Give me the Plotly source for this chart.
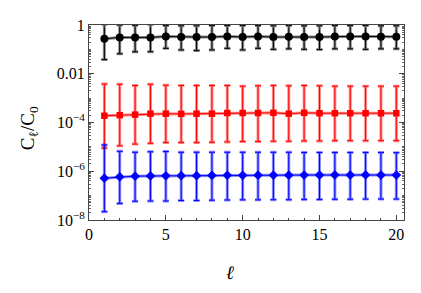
import plotly.graph_objects as go
import numpy as np

ell = list(range(1, 21))

black_val = [0.27, 0.31, 0.31, 0.31, 0.34, 0.32, 0.32, 0.32, 0.34, 0.32,
             0.34, 0.32, 0.33, 0.32, 0.32, 0.34, 0.34, 0.34, 0.33, 0.33]
black_hi = [1.07, 1.0, 0.97, 1.05, 0.95, 0.93, 0.93, 0.95, 0.95, 0.95,
            0.95, 0.93, 0.95, 0.93, 0.93, 0.95, 0.95, 0.95, 0.93, 0.93]
black_lo = [0.038, 0.066, 0.079, 0.08, 0.11, 0.095, 0.089, 0.095, 0.11, 0.095,
            0.11, 0.1, 0.105, 0.1, 0.098, 0.105, 0.105, 0.1, 0.105, 0.105]

red_val = [1.9e-4, 2.0e-4, 2.1e-4, 2.3e-4, 2.3e-4, 2.25e-4, 2.3e-4, 2.3e-4, 2.45e-4, 2.45e-4,
           2.45e-4, 2.5e-4, 2.3e-4, 2.5e-4, 2.4e-4, 2.4e-4, 2.4e-4, 2.4e-4, 2.4e-4, 2.4e-4]
red_hi = [3.8e-3, 3.7e-3, 3.3e-3, 3.7e-3, 3.4e-3, 3.3e-3, 3.3e-3, 3.3e-3, 3.3e-3, 3.1e-3,
          3.2e-3, 3.3e-3, 3.2e-3, 3.3e-3, 3.2e-3, 3.1e-3, 3.1e-3, 3.1e-3, 3.1e-3, 3.1e-3]
red_lo = [8.9e-6, 1.1e-5, 1.3e-5, 1.4e-5, 1.5e-5, 1.5e-5, 1.5e-5, 1.55e-5, 1.6e-5, 1.65e-5,
          1.65e-5, 1.7e-5, 1.7e-5, 1.75e-5, 1.75e-5, 1.8e-5, 1.8e-5, 1.8e-5, 1.8e-5, 1.8e-5]

blue_val = [5.2e-7, 5.9e-7, 6.3e-7, 6.4e-7, 6.5e-7, 6.6e-7, 6.6e-7, 6.7e-7, 6.8e-7, 6.8e-7,
            6.9e-7, 6.9e-7, 6.9e-7, 7.0e-7, 7.0e-7, 7.1e-7, 7.0e-7, 7.1e-7, 7.0e-7, 7.0e-7]
blue_hi = [1.2e-5, 6.6e-6, 6.0e-6, 6.3e-6, 6.5e-6, 6.0e-6, 6.0e-6, 6.0e-6, 6.0e-6, 6.0e-6,
           6.0e-6, 6.0e-6, 6.0e-6, 5.9e-6, 5.9e-6, 5.9e-6, 5.9e-6, 5.9e-6, 5.9e-6, 5.8e-6]
blue_lo = [2.2e-8, 4.8e-8, 5.9e-8, 6.0e-8, 6.0e-8, 6.3e-8, 6.3e-8, 6.5e-8, 6.6e-8, 6.7e-8,
           6.7e-8, 6.8e-8, 6.8e-8, 7.0e-8, 7.0e-8, 7.1e-8, 7.1e-8, 7.2e-8, 7.2e-8, 7.2e-8]

y_tickvals = [1, 0.01, 1e-4, 1e-6, 1e-8]
y_ticktext = ["1", "0.01", "10<sup>\u22124</sup>", "10<sup>\u22126</sup>", "10<sup>\u22128</sup>"]
x_tickvals = [0, 5, 10, 15, 20]

series = [
    (black_val, black_hi, black_lo, "black", "rgba(0,0,0,0.45)", "circle", 8),
    (red_val, red_hi, red_lo, "#ff0000", "rgba(255,0,0,0.45)", "square", 6.5),
    (blue_val, blue_hi, blue_lo, "#0000ff", "rgba(0,0,255,0.45)", "diamond", 7.5),
]

fig = go.Figure()
for val, hi, lo, dark, light, sym, size in series:
    v = np.array(val)
    up = np.array(hi) - v
    dn = v - np.array(lo)
    fig.add_trace(go.Scatter(
        x=ell, y=val, mode="lines",
        line=dict(color=light, width=3),
        error_y=dict(type="data", array=up, arrayminus=dn, color=light,
                     thickness=3, width=3),
        showlegend=False, hoverinfo="skip"))
    fig.add_trace(go.Scatter(
        x=ell, y=val, mode="lines+markers",
        line=dict(color=dark, width=1),
        marker=dict(symbol=sym, size=size, color=dark),
        error_y=dict(type="data", array=up, arrayminus=dn, color=dark,
                     thickness=1, width=3),
        showlegend=False))

minor_y = []
for k in range(-8, 0):
    for m in range(2, 10):
        minor_y.append(m * 10.0 ** k)
for k in [-7, -5, -3, -1]:
    minor_y.append(10.0 ** k)

SERIF = "Liberation Serif, Times New Roman, serif"
axis_font = dict(family=SERIF, size=16, color="black")

fig.update_layout(
    template="none",
    width=413, height=285,
    margin=dict(l=81, r=17, t=17, b=73, autoexpand=False),
    paper_bgcolor="white", plot_bgcolor="white",
    font=axis_font,
    xaxis=dict(range=[0, 20.5], tickmode="array", tickvals=x_tickvals,
               automargin=False,
               ticks="inside", ticklen=5, tickcolor="#444", tickwidth=1,
               showline=True, linecolor="#444", linewidth=1, mirror="ticks",
               showgrid=False, zeroline=False, tickfont=axis_font,
               minor=dict(tickmode="linear", tick0=0, dtick=1, ticks="inside",
                          ticklen=2.5, tickcolor="#444", showgrid=False)),
    yaxis=dict(type="log", range=[-8, 0], tickmode="array", tickvals=y_tickvals,
               ticktext=y_ticktext, automargin=False,
               ticks="inside", ticklen=5, tickcolor="#444", tickwidth=1,
               showline=True, linecolor="#444", linewidth=1, mirror="ticks",
               showgrid=False, zeroline=False, tickfont=axis_font,
               minor=dict(tickmode="array", tickvals=minor_y, ticks="inside",
                          ticklen=2, tickcolor="#666", showgrid=False)),
    annotations=[
        dict(text="C<sub>\u2113</sub>/C<sub>0</sub>", xref="paper", yref="paper",
             x=-0.188, y=0.47, xanchor="center", yanchor="middle",
             textangle=-90, showarrow=False,
             font=dict(family=SERIF, size=19, color="black")),
        dict(text="<i>\u2113</i>", xref="paper", yref="paper",
             x=0.448, y=-0.267, xanchor="center", yanchor="middle",
             showarrow=False,
             font=dict(family=SERIF, size=19, color="black")),
    ],
)

fig.write_html("out.html")
